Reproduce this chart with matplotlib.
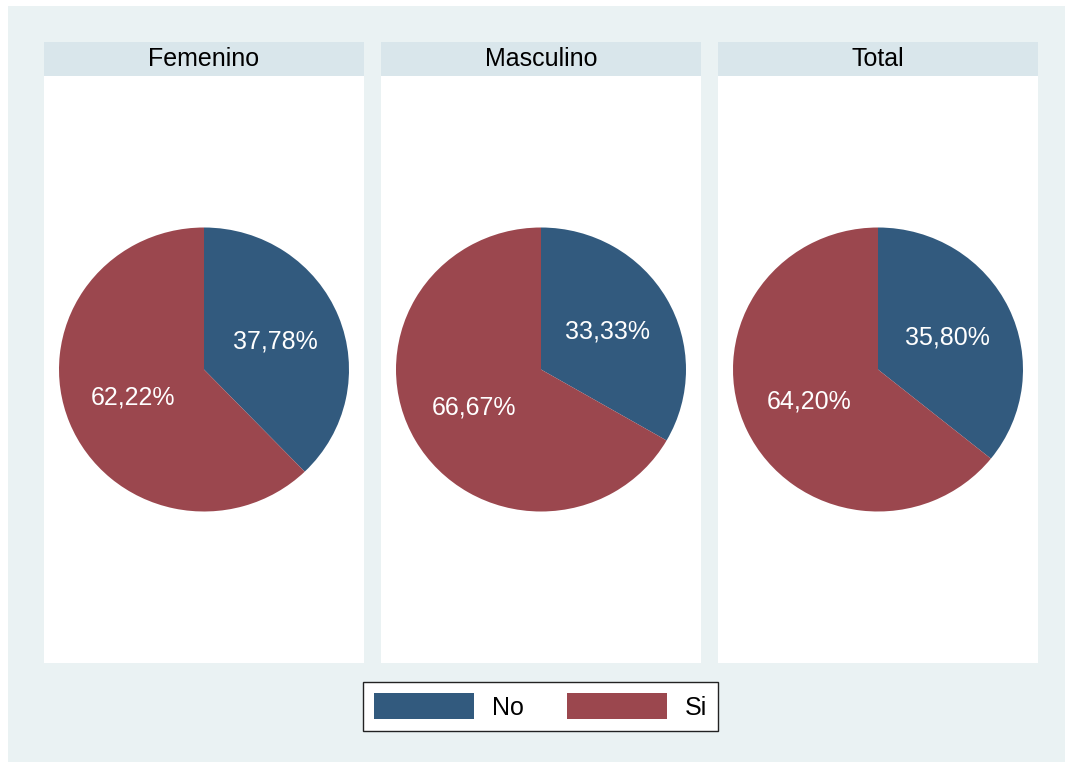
import matplotlib.pyplot as plt
from matplotlib.patches import Rectangle, Patch

plt.rcParams['font.family'] = ['Liberation Sans', 'DejaVu Sans']

# Data
groups = ['Femenino', 'Masculino', 'Total']
categories = ['No', 'Si']
no_pct = [37.78, 33.33, 35.80]
si_pct = [62.22, 66.67, 64.20]
colors = ['#325a7e', '#9b474e']

W, H = 1065, 762
fig = plt.figure(figsize=(W / 100, H / 100), dpi=100)
fig.patch.set_facecolor('white')

def fx(px):
    return px / W

def fy(py):
    return 1 - py / H

# outer background
fig.patches.append(Rectangle((fx(8), 0), 1 - fx(8), fy(6), transform=fig.transFigure,
                             facecolor='#eaf2f3', edgecolor='none', zorder=-2))

panel_left = [44, 381, 718]
pw = 320
top_bar, top_plot, bottom_plot = 42, 76, 663
rx, ry = 145, 142

for i, g in enumerate(groups):
    x0 = panel_left[i]
    # title bar
    fig.patches.append(Rectangle((fx(x0), fy(top_plot)), pw / W, (top_plot - top_bar) / H,
                                 transform=fig.transFigure, facecolor='#d9e6eb',
                                 edgecolor='none', zorder=-1))
    fig.text(fx(x0 + pw / 2), fy((top_bar + top_plot) / 2), g, ha='center', va='center',
             fontsize=18, color='black')
    ax = fig.add_axes([fx(x0), fy(bottom_plot), pw / W, (bottom_plot - top_plot) / H])
    vals = [no_pct[i], si_pct[i]]
    wedges, texts, autotexts = ax.pie(
        vals, colors=colors, startangle=90, counterclock=False,
        autopct=lambda p: f'{p:.2f}%'.replace('.', ','), pctdistance=0.53,
        wedgeprops=dict(linewidth=0),
        textprops=dict(color='white', fontsize=18))
    ax.set_axis_on()
    ax.set_frame_on(True)
    ax.set_facecolor('white')
    ax.set_xticks([])
    ax.set_yticks([])
    for s in ax.spines.values():
        s.set_visible(False)
    ax.set_aspect('auto')
    ax.set_xlim(-pw / 2 / rx, pw / 2 / rx)
    ax.set_ylim(-(bottom_plot - top_plot) / 2 / ry, (bottom_plot - top_plot) / 2 / ry)

handles = [Patch(facecolor=c, edgecolor='none', label=l) for c, l in zip(colors, categories)]
leg = fig.legend(handles=handles, ncol=2, loc='center',
                 bbox_to_anchor=(fx(540.5), fy(706.5)), fontsize=18,
                 handlelength=4.0, handleheight=1.2, handletextpad=0.7,
                 columnspacing=1.75, borderpad=0.45, fancybox=False,
                 edgecolor='#222222', framealpha=1)
leg.get_frame().set_linewidth(1.0)

fig.savefig('out.png', dpi=100)
